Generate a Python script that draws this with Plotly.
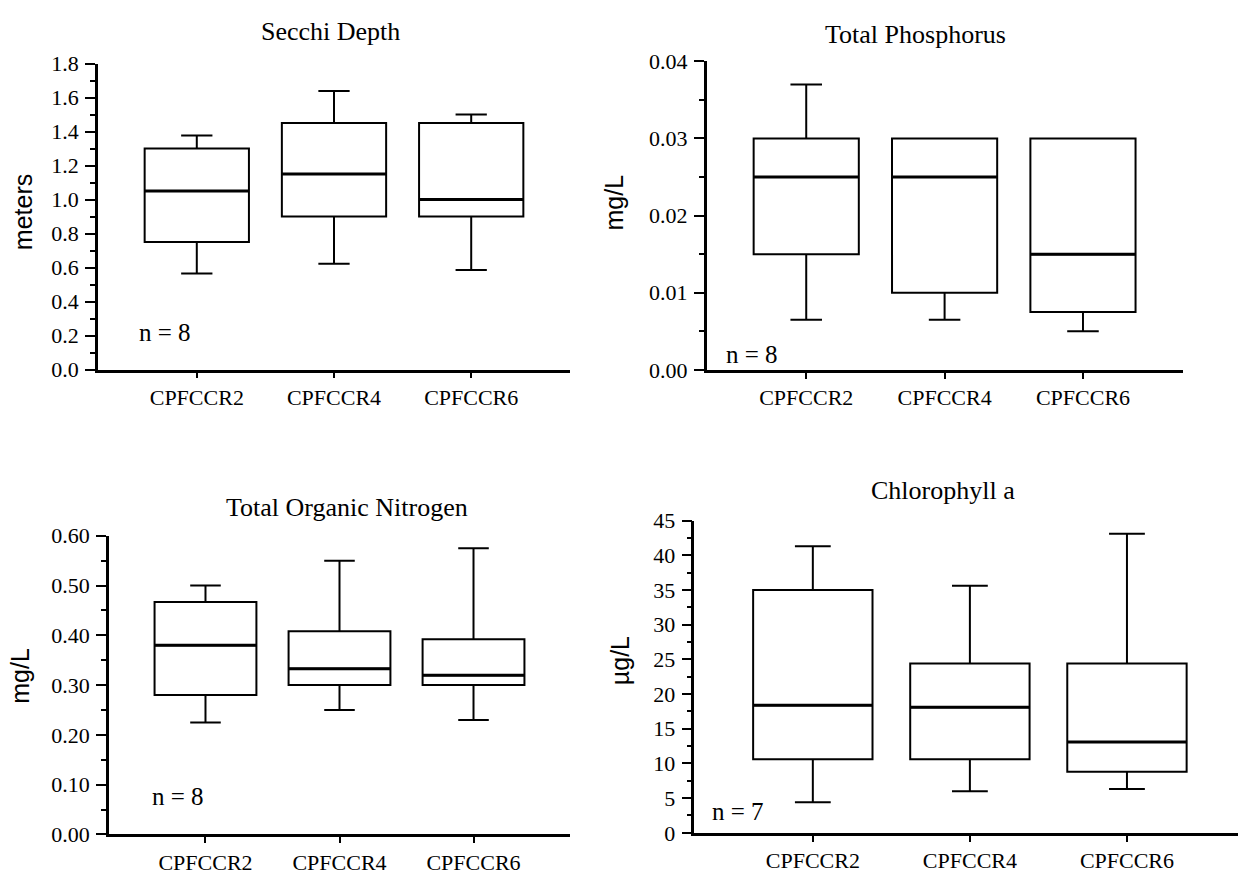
import plotly.graph_objects as go

W, H = 1238, 885

categories = ["CPFCCR2", "CPFCCR4", "CPFCCR6"]

# Secchi Depth (meters)
secchi_low = [0.565, 0.623, 0.585]
secchi_q1 = [0.75, 0.90, 0.90]
secchi_med = [1.05, 1.15, 1.00]
secchi_q3 = [1.30, 1.45, 1.45]
secchi_high = [1.377, 1.638, 1.50]

# Total Phosphorus (mg/L)
tp_low = [0.0065, 0.0065, 0.0050]
tp_q1 = [0.015, 0.010, 0.0075]
tp_med = [0.025, 0.025, 0.015]
tp_q3 = [0.030, 0.030, 0.030]
tp_high = [0.037, 0.030, 0.030]

# Total Organic Nitrogen (mg/L)
ton_low = [0.225, 0.250, 0.230]
ton_q1 = [0.280, 0.300, 0.300]
ton_med = [0.380, 0.333, 0.320]
ton_q3 = [0.467, 0.408, 0.392]
ton_high = [0.500, 0.550, 0.575]

# Chlorophyll a (ug/L)
chl_low = [4.4, 6.0, 6.3]
chl_q1 = [10.6, 10.6, 8.8]
chl_med = [18.4, 18.1, 13.1]
chl_q3 = [35.0, 24.4, 24.4]
chl_high = [41.3, 35.6, 43.1]

panel_titles = ["Secchi Depth", "Total Phosphorus", "Total Organic Nitrogen", "Chlorophyll a"]
y_titles = ["meters", "mg/L", "mg/L", "µg/L"]
n_labels = ["n = 8", "n = 8", "n = 8", "n = 7"]

SERIF = "Liberation Serif"
SANS = "Liberation Sans"
BOXW = 0.76

def px(x):
    return x / W

def py(y):
    return 1 - y / H

panels = [
    dict(data=(secchi_low, secchi_q1, secchi_med, secchi_q3, secchi_high),
         xdom=[px(98), px(570)], ydom=[py(368), py(53)], yrange=[0, 1.8],
         dtick=0.2, minor=0.1, fmt=".1f", xr=[-0.72, 2.72]),
    dict(data=(tp_low, tp_q1, tp_med, tp_q3, tp_high),
         xdom=[px(706.6), px(1182.6)], ydom=[py(368.3), py(50.7)], yrange=[0, 0.04],
         dtick=0.01, minor=0.005, fmt=".2f", xr=[-0.72, 2.72]),
    dict(data=(ton_low, ton_q1, ton_med, ton_q3, ton_high),
         xdom=[px(109), px(570)], ydom=[py(846.3), py(539)], yrange=[0, 0.60],
         dtick=0.10, minor=0.05, fmt=".2f", xr=[-0.72, 2.72]),
    dict(data=(chl_low, chl_q1, chl_med, chl_q3, chl_high),
         xdom=[px(694.4), 1.0], ydom=[py(844.7), py(523.3)], yrange=[0, 45],
         dtick=5, minor=2.5, fmt="d", xr=[-0.754, 2.707]),
]

fig = go.Figure()
xi = list(range(len(categories)))

for k, p in enumerate(panels):
    low, q1, med, q3, high = p["data"]
    sfx = "" if k == 0 else str(k + 1)
    fig.add_trace(go.Box(
        x=xi, q1=q1, median=med, q3=q3, lowerfence=low, upperfence=high,
        width=BOXW,
        xaxis="x" + sfx, yaxis="y" + sfx,
        fillcolor="white", line=dict(color="black", width=2),
        whiskerwidth=0.3, boxpoints=False, showlegend=False, hoverinfo="skip",
    ))
    # thicker median lines
    mx, my = [], []
    for i, m in zip(xi, med):
        mx += [i - BOXW / 2, i + BOXW / 2, None]
        my += [m, m, None]
    fig.add_trace(go.Scatter(
        x=mx, y=my, mode="lines", line=dict(color="black", width=3),
        xaxis="x" + sfx, yaxis="y" + sfx, showlegend=False, hoverinfo="skip",
    ))
    xa = dict(
        domain=p["xdom"], anchor="y" + sfx, range=p["xr"], type="linear",
        tickvals=xi, ticktext=categories, showgrid=False, zeroline=False,
        showline=True, linecolor="black", linewidth=2.5,
        ticks="outside", ticklen=6, tickwidth=2, tickcolor="black",
        tickfont=dict(family=SERIF, size=22, color="black"),
        ticklabelstandoff=0, fixedrange=True,
    )
    ya = dict(
        domain=p["ydom"], anchor="x" + sfx, range=p["yrange"],
        dtick=p["dtick"], tick0=0, tickformat=p["fmt"], showgrid=False, zeroline=False,
        showline=True, linecolor="black", linewidth=2.5,
        ticks="outside", ticklen=10, tickwidth=2, tickcolor="black",
        tickfont=dict(family=SERIF, size=22, color="black"),
        minor=dict(dtick=p["minor"], tick0=0, ticks="outside", ticklen=5, tickwidth=2,
                   tickcolor="black", showgrid=False),
        ticklabelstandoff=2, fixedrange=True,
    )
    fig.layout["xaxis" + sfx] = xa
    fig.layout["yaxis" + sfx] = ya

title_pos = [(330, 20), (915, 23), (347, 510), (943, 492)]
ytitle_pos = [(23, 206), (614, 196), (20, 683), (620, 668)]
n_pos = [(137, 330), (724, 352), (150, 807), (710, 823)]

annotations = []
for k in range(4):
    tx, ty = title_pos[k]
    annotations.append(dict(text=panel_titles[k], x=px(tx), y=py(ty), xref="paper", yref="paper",
                            showarrow=False, xanchor="center", yanchor="middle",
                            font=dict(family=SERIF, size=26, color="black")))
    ax_, ay_ = ytitle_pos[k]
    annotations.append(dict(text=y_titles[k], x=px(ax_), y=py(ay_), xref="paper", yref="paper",
                            showarrow=False, xanchor="center", yanchor="middle", textangle=-90,
                            font=dict(family=SANS, size=25, color="black")))
    nx, ny = n_pos[k]
    annotations.append(dict(text=n_labels[k], x=px(nx), y=py(ny), xref="paper", yref="paper",
                            showarrow=False, xanchor="left", yanchor="middle",
                            font=dict(family=SERIF, size=25, color="black")))

fig.update_layout(
    width=W, height=H, margin=dict(l=0, r=0, t=0, b=0),
    paper_bgcolor="white", plot_bgcolor="white",
    showlegend=False, annotations=annotations,
)

fig.write_html("out.html", config={"displayModeBar": False},
               post_script="document.body.style.margin='0';")
